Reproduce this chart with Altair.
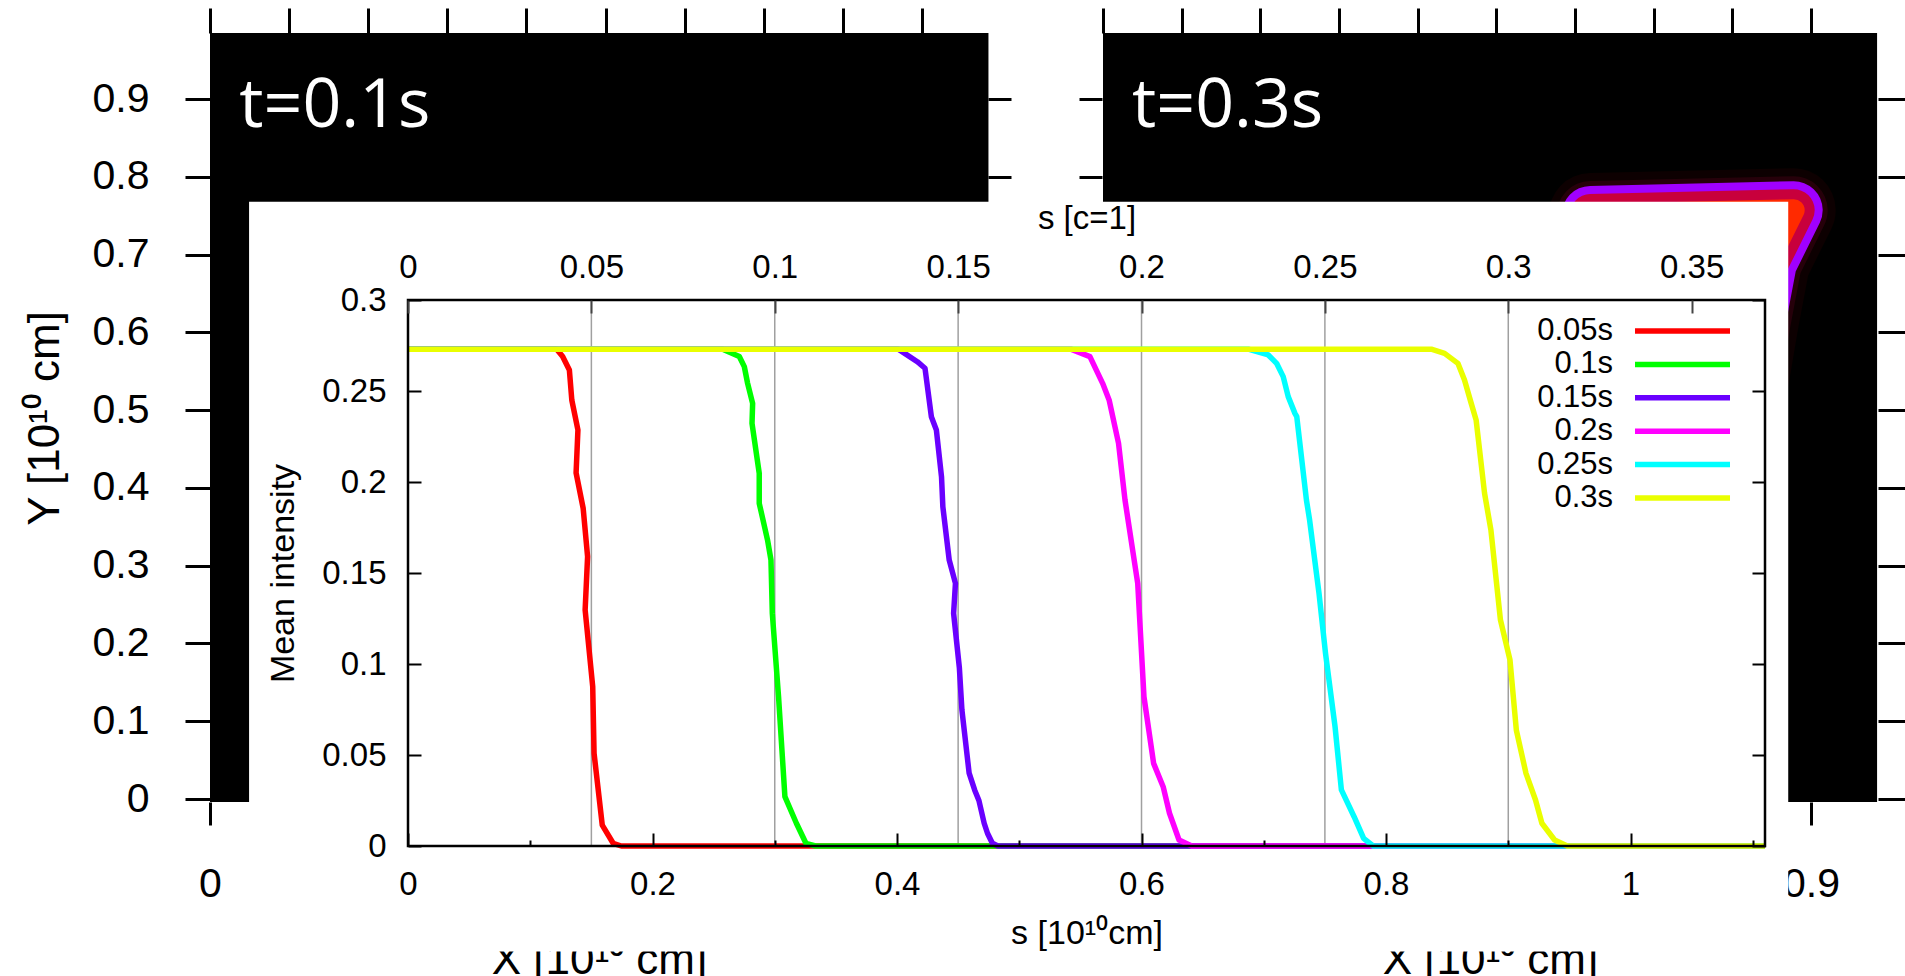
import altair as alt
import pandas as pd

FONT = "Liberation Sans"

# ---------------- inset line chart: mean intensity vs s ----------------
series_names = ["0.05s", "0.1s", "0.15s", "0.2s", "0.25s", "0.3s"]
series_colors = ["#ff0000", "#00ff00", "#6a00ff", "#ff00ff", "#00ffff", "#eaff00"]

s_005 = [0.0, 0.1216, 0.1265, 0.132, 0.134, 0.139, 0.1375, 0.1433, 0.1469, 0.1449,
         0.1511, 0.1522, 0.1589, 0.1678, 0.1745, 1.11]
I_005 = [0.273, 0.273, 0.269, 0.2615, 0.245, 0.2286, 0.205, 0.1855, 0.159, 0.1297,
         0.0875, 0.0509, 0.0115, 0.0015, 0.0, 0.0]

s_010 = [0.0, 0.2574, 0.271, 0.2751, 0.2778, 0.2819, 0.2814, 0.2873, 0.2873, 0.2941,
         0.2969, 0.298, 0.3031, 0.3083, 0.3177, 0.3255, 0.3333, 1.11]
I_010 = [0.273, 0.273, 0.2689, 0.2634, 0.2542, 0.2432, 0.2322, 0.2048, 0.1883, 0.1681,
         0.1571, 0.1278, 0.082, 0.0271, 0.0125, 0.0015, 0.0, 0.0]

s_015 = [0.0, 0.401, 0.4166, 0.4229, 0.4281, 0.4322, 0.4364, 0.4375, 0.4427, 0.4478,
         0.4463, 0.451, 0.4531, 0.459, 0.4635, 0.467, 0.4713, 0.474, 0.478, 0.4825, 1.11]
I_015 = [0.273, 0.273, 0.2661, 0.2625, 0.2359, 0.2286, 0.2029, 0.1864, 0.1571, 0.1443,
         0.1278, 0.098, 0.0747, 0.040, 0.0308, 0.025, 0.0125, 0.007, 0.0015, 0.0, 0.0]

s_020 = [0.0, 0.5422, 0.5578, 0.5682, 0.5735, 0.5812, 0.5865, 0.5969, 0.602, 0.6099,
         0.6177, 0.6229, 0.6307, 0.6411, 1.11]
I_020 = [0.273, 0.273, 0.2689, 0.2542, 0.2451, 0.2213, 0.1901, 0.1443, 0.082, 0.0454,
         0.0326, 0.018, 0.0033, 0.0, 0.0]

s_025 = [0.0, 0.6873, 0.7037, 0.7105, 0.7159, 0.72, 0.7255, 0.727, 0.7349, 0.7375,
         0.7452, 0.7505, 0.7583, 0.7635, 0.7739, 0.7817, 0.7895, 1.11]
I_025 = [0.273, 0.273, 0.2698, 0.2652, 0.2579, 0.2469, 0.2377, 0.2359, 0.1901, 0.1791,
         0.1388, 0.1059, 0.0656, 0.0308, 0.0161, 0.0042, 0.0, 0.0]

s_030 = [0.0, 0.837, 0.8479, 0.8588, 0.8642, 0.8697, 0.8737, 0.8806, 0.8858, 0.8936,
         0.9014, 0.9066, 0.9145, 0.9223, 0.9275, 0.9379, 0.9483, 1.11]
I_030 = [0.273, 0.273, 0.2707, 0.2652, 0.256, 0.2432, 0.2341, 0.1938, 0.1736, 0.1242,
         0.1022, 0.0637, 0.0399, 0.0253, 0.0125, 0.0033, 0.0, 0.0]

series_s = [s_005, s_010, s_015, s_020, s_025, s_030]
series_I = [I_005, I_010, I_015, I_020, I_025, I_030]

grid_c = [0.05, 0.1, 0.15, 0.2, 0.25, 0.3]
inset_y_ticks = [0.0, 0.05, 0.1, 0.15, 0.2, 0.25, 0.3]
inset_x_major = [0.0, 0.2, 0.4, 0.6, 0.8, 1.0]
inset_x_minor = [0.1, 0.3, 0.5, 0.7, 0.9, 1.1]
inset_top_ticks = [0.0, 0.05, 0.1, 0.15, 0.2, 0.25, 0.3, 0.35]
inset_s_domain = [0.0, 1.11]
inset_c_domain = [0.0, 0.37]
inset_I_domain = [0.0, 0.3]
inset_box_s = [-0.130, 1.129]
inset_box_I = [-0.058, 0.354]

# ---------------- background simulation panels ----------------
panel_titles = ["t=0.1s", "t=0.3s"]
panel_ticks = [0.0, 0.1, 0.2, 0.3, 0.4, 0.5, 0.6, 0.7, 0.8, 0.9]
panel_bottom_labels = [[0.0], [0.9]]   # the other bottom ticks sit under the inset
panel_extent_X = [0.0, 0.984]
panel_extent_Y = [-0.004, 0.985]
panel_title_pos = [0.037, 0.864]
glow_X = [0.62, 0.878, 0.8453, 0.8313, 0.8097]
glow_Y = [0.751, 0.757, 0.6904, 0.6158, 0.4873]
glow_widths = [84, 68, 58, 42, 22]
glow_colors = ["#0d0001", "#26000a", "#a000ff", "#c8003c", "#ff2a00"]

# ---------------- layout (plot area = inset frame) ----------------
W, H = 1357, 546
PAD = {"left": 408, "top": 300, "right": 140, "bottom": 130}

sxL = alt.Scale(domain=[0, 0.9], range=[-198, 514], nice=False, zero=False)
sxR = alt.Scale(domain=[0, 0.9], range=[695, 1403], nice=False, zero=False)
syP = alt.Scale(domain=[0, 0.9], range=[499, -201], nice=False, zero=False)
sx_in = alt.Scale(domain=inset_s_domain, nice=False, zero=False)
sc_in = alt.Scale(domain=inset_c_domain, nice=False, zero=False)
sy_in = alt.Scale(domain=inset_I_domain, nice=False, zero=False)


def panel_axis(orient, offset, tick, labels=False, values=panel_ticks, **kw):
    return alt.Axis(orient=orient, offset=offset, values=values, tickSize=tick,
                    tickWidth=3, tickColor="black", domain=False, grid=False,
                    labels=labels, zindex=0, labelFont=FONT, labelFontSize=41,
                    labelColor="black", format="~g", labelFlush=False,
                    labelOverlap=False, titleFont=FONT, titleFontSize=44,
                    titleFontWeight="normal", titleColor="black", **kw)


def inset_axis(orient, offset, tick, values, labels=False, tickColor="black", **kw):
    return alt.Axis(orient=orient, offset=offset, values=values, tickSize=tick,
                    tickWidth=2, tickColor=tickColor, domain=False, grid=False,
                    labels=labels, zindex=1, labelFont=FONT, labelFontSize=33,
                    labelColor="black", format="~g", labelFlush=False,
                    labelOverlap=False, titleFont=FONT, titleFontWeight="normal",
                    titleColor="black", **kw)


def panel_df(i):
    return pd.DataFrame({"x0": [panel_extent_X[0]], "x1": [panel_extent_X[1]],
                         "y0": [panel_extent_Y[0]], "y1": [panel_extent_Y[1]],
                         "label": [panel_titles[i]],
                         "tx": [panel_title_pos[0]], "ty": [panel_title_pos[1]]})


dfL, dfR = panel_df(0), panel_df(1)

pL_rect = alt.Chart(dfL).mark_rect(color="black").encode(
    x=alt.X("x0:Q", scale=sxL, axis=panel_axis(
        "bottom", -44, 23, labels=True, values=panel_bottom_labels[0], labelPadding=39,
        title="X [10¹⁰ cm]", titleX=191, titleY=171, titleAlign="center",
        titleBaseline="alphabetic", titleAngle=0)),
    x2="x1:Q",
    y=alt.Y("y0:Q", scale=syP, axis=panel_axis(
        "left", 198, 25, labels=True, labelPadding=36, title="Y [10¹⁰ cm]",
        titleX=-165, titleY=118, titleAlign="center", titleBaseline="middle", titleAngle=270)),
    y2="y1:Q",
)
pL_text = alt.Chart(dfL).mark_text(align="left", baseline="alphabetic", font="Open Sans",
                                   fontSize=68, color="white").encode(
    x=alt.X("tx:Q", scale=sxL, axis=panel_axis("top", 267, 25, title=None)),
    y=alt.Y("ty:Q", scale=syP, axis=panel_axis("right", -777, 23, title=None)),
    text="label:N",
)
pR_rect = alt.Chart(dfR).mark_rect(color="black").encode(
    x=alt.X("x0:Q", scale=sxR, axis=panel_axis(
        "bottom", -44, 23, labels=True, values=panel_bottom_labels[1], labelPadding=39,
        title="X [10¹⁰ cm]", titleX=1082, titleY=171, titleAlign="center",
        titleBaseline="alphabetic", titleAngle=0)),
    x2="x1:Q",
    y=alt.Y("y0:Q", scale=syP, axis=panel_axis("left", -694, 23, title=None)),
    y2="y1:Q",
)
pR_text = alt.Chart(dfR).mark_text(align="left", baseline="alphabetic", font="Open Sans",
                                   fontSize=68, color="white").encode(
    x=alt.X("tx:Q", scale=sxR, axis=panel_axis("top", 267, 25, title=None)),
    y=alt.Y("ty:Q", scale=syP, axis=panel_axis("right", 113, 27, title=None)),
    text="label:N",
)

df_glow = pd.DataFrame({"X": glow_X, "Y": glow_Y, "k": list(range(len(glow_X)))})
glow_layers = [
    alt.Chart(df_glow).mark_line(color=c, strokeWidth=w, strokeCap="round",
                                 strokeJoin="round").encode(
        x=alt.X("X:Q", scale=sxR, axis=None),
        y=alt.Y("Y:Q", scale=syP, axis=None),
        order="k:Q",
    )
    for w, c in zip(glow_widths, glow_colors)
]

df_box = pd.DataFrame({"x0": [inset_box_s[0]], "x1": [inset_box_s[1]],
                       "y0": [inset_box_I[0]], "y1": [inset_box_I[1]]})
inset_bg = alt.Chart(df_box).mark_rect(color="white").encode(
    x=alt.X("x0:Q", scale=sx_in, axis=None), x2="x1:Q",
    y=alt.Y("y0:Q", scale=sy_in, axis=None), y2="y1:Q",
)

df_grid = pd.DataFrame({"c": grid_c, "y0": inset_I_domain[0], "y1": inset_I_domain[1]})
grid = alt.Chart(df_grid).mark_rule(color="#a0a0a0", strokeWidth=1.5).encode(
    x=alt.X("c:Q", scale=sc_in, axis=inset_axis(
        "top", -13, 13, inset_top_ticks, labels=True, labelPadding=16, tickColor="#444444",
        title="s [c=1]", titleFontSize=33, titleY=-85, titleBaseline="alphabetic")),
    y=alt.Y("y0:Q", scale=sy_in, axis=inset_axis(
        "left", -13, 13, inset_y_ticks, labels=True, labelPadding=22,
        title="Mean intensity", titleFontSize=34, titleX=-138, titleY=273,
        titleAngle=270, titleAlign="center", titleBaseline="middle")),
    y2="y1:Q",
)

rows = []
for name, ss, ii in zip(series_names, series_s, series_I):
    for k, (a, b) in enumerate(zip(ss, ii)):
        rows.append({"series": name, "entry": name, "s": a, "I": b, "k": k})
df_lines = pd.DataFrame(rows)

LEG = dict(orient="none", legendY=14.5, title=None, clipHeight=33, rowPadding=0.4,
           labelFont=FONT, labelFontSize=31, labelColor="black", labelLimit=400, padding=0)

# legend part 1: the coloured line samples
lines = alt.Chart(df_lines).mark_line(strokeWidth=5.5, strokeJoin="round").encode(
    x=alt.X("s:Q", scale=sx_in, axis=inset_axis(
        "bottom", -13, 13, inset_x_major, labels=True, labelPadding=22,
        title="s [10¹⁰cm]", titleFontSize=34, titleY=110, titleBaseline="alphabetic")),
    y=alt.Y("I:Q", scale=sy_in, axis=inset_axis("right", -13, 13, inset_y_ticks, title=None)),
    color=alt.Color("series:N", scale=alt.Scale(domain=series_names, range=series_colors),
                    legend=alt.Legend(legendX=1224, symbolType="stroke", symbolSize=9025,
                                      symbolStrokeWidth=5.5, labelOpacity=0, **LEG)),
    order="k:Q",
)

# legend part 2: the right-aligned labels, left of the samples
legend_labels = alt.Chart(df_lines).mark_point(opacity=0).encode(
    x=alt.X("s:Q", scale=sx_in, axis=None),
    y=alt.Y("I:Q", scale=sy_in, axis=None),
    shape=alt.Shape("entry:N", sort=series_names,
                    legend=alt.Legend(legendX=1174, symbolSize=0, symbolOpacity=0,
                                      labelAlign="right", labelOffset=0, **LEG)),
)

df_frame = pd.DataFrame({"x0": [inset_s_domain[0]], "x1": [inset_s_domain[1]],
                         "y0": [inset_I_domain[0]], "y1": [inset_I_domain[1]]})
frame = alt.Chart(df_frame).mark_rect(fillOpacity=0, stroke="black", strokeWidth=2.5).encode(
    x=alt.X("x0:Q", scale=sx_in, axis=inset_axis("bottom", -6, 6, inset_x_minor, title=None)),
    x2="x1:Q",
    y=alt.Y("y0:Q", scale=sy_in, axis=None),
    y2="y1:Q",
)

chart = alt.layer(
    pL_rect, pL_text, pR_rect, pR_text, *glow_layers, inset_bg, grid, lines,
    legend_labels, frame
).resolve_scale(
    x="independent", y="independent"
).resolve_axis(
    x="independent", y="independent"
).properties(
    width=W, height=H, padding=PAD, autosize=alt.AutoSizeParams(type="none"),
    background="white",
).configure_view(strokeWidth=0).configure(font=FONT)

chart.save("out.html", embed_options={"renderer": "svg", "actions": False})
